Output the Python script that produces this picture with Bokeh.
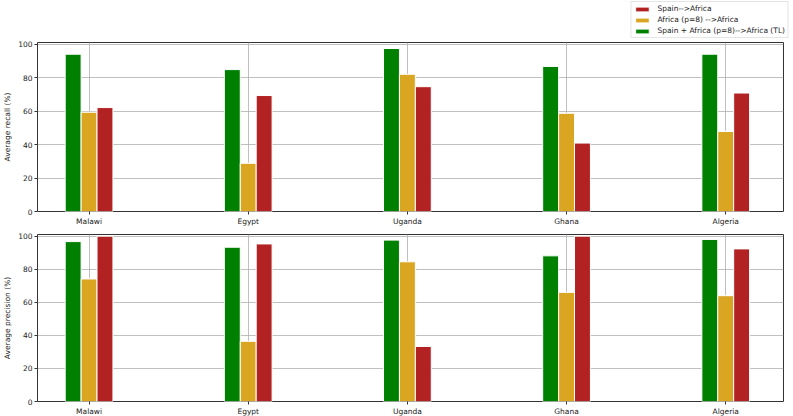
from bokeh.plotting import figure
from bokeh.models import ColumnDataSource, Range1d, FixedTicker, Legend, LegendItem
from bokeh.transform import dodge
from bokeh.layouts import column
from bokeh.embed import file_html
from bokeh.resources import INLINE

countries = ["Malawi", "Egypt", "Uganda", "Ghana", "Algeria"]
recall_tl = [94.0, 84.8, 97.4, 86.7, 94.0]
recall_africa = [59.3, 28.8, 82.0, 58.7, 47.8]
recall_spain = [62.1, 69.3, 74.6, 40.9, 70.8]
prec_tl = [96.7, 93.3, 97.6, 88.1, 98.0]
prec_africa = [74.1, 36.4, 84.5, 66.0, 64.0]
prec_spain = [100.0, 95.3, 33.3, 100.0, 92.3]
y_ticks = [0, 20, 40, 60, 80, 100]

labels = ["Spain-->Africa", "Africa (p=8) -->Africa", "Spain + Africa (p=8)-->Africa (TL)"]
GREEN, GOLD, RED = "#008000", "#daa520", "#b22222"
FONT = "DejaVu Sans"
TXT = "#222222"
W = 784


def add_bars(p, src):
    r_tl = p.vbar(x=dodge("idx", -0.1, range=p.x_range), top="tl", width=0.1, source=src,
                  fill_color=GREEN, line_color="white", line_width=1)
    r_af = p.vbar(x=dodge("idx", 0.0, range=p.x_range), top="africa", width=0.1, source=src,
                  fill_color=GOLD, line_color="white", line_width=1)
    r_sp = p.vbar(x=dodge("idx", 0.1, range=p.x_range), top="spain", width=0.1, source=src,
                  fill_color=RED, line_color="white", line_width=1)
    return r_tl, r_af, r_sp


def make_fig(src, ylabel, top_border, height):
    p = figure(width=W, height=height, output_backend="svg",
               toolbar_location=None, x_range=Range1d(-0.324, 4.363),
               y_range=Range1d(0, 101), min_border_left=0, min_border_right=1,
               min_border_top=top_border, min_border_bottom=0)
    p.background_fill_color = "white"
    p.outline_line_color = "#333333"
    p.outline_line_width = 1
    add_bars(p, src)
    p.xaxis.ticker = FixedTicker(ticks=list(range(len(countries))))
    p.xaxis.major_label_overrides = {i: c for i, c in enumerate(countries)}
    p.yaxis.ticker = FixedTicker(ticks=y_ticks)
    p.yaxis.axis_label = ylabel
    for ax in (p.xaxis[0], p.yaxis[0]):
        ax.axis_line_color = None
        ax.major_tick_line_color = "#333333"
        ax.major_tick_out = 3
        ax.major_tick_in = 0
        ax.minor_tick_line_color = None
        ax.major_label_text_font = FONT
        ax.major_label_text_font_size = "7.5px"
        ax.major_label_text_color = TXT
        ax.major_label_standoff = 2
        ax.axis_label_text_font = FONT
        ax.axis_label_text_font_size = "7.5px"
        ax.axis_label_text_font_style = "normal"
        ax.axis_label_text_color = TXT
        ax.axis_label_standoff = 3
    p.grid.grid_line_color = "#b0b0b0"
    p.grid.grid_line_width = 0.8
    return p


idx = list(range(len(countries)))
src_recall = ColumnDataSource(dict(idx=idx, tl=recall_tl, africa=recall_africa, spain=recall_spain))
src_prec = ColumnDataSource(dict(idx=idx, tl=prec_tl, africa=prec_africa, spain=prec_spain))

# legend strip above the two panels (its bars lie far outside its view)
lg = figure(width=790, height=38, output_backend="svg", toolbar_location=None,
            x_range=Range1d(500, 501), y_range=Range1d(5000, 5001), min_border=0)
lg.axis.visible = False
lg.grid.visible = False
lg.outline_line_color = None
l_tl, l_af, l_sp = add_bars(lg, src_recall)
leg = Legend(items=[LegendItem(label=labels[0], renderers=[l_sp]),
                    LegendItem(label=labels[1], renderers=[l_af]),
                    LegendItem(label=labels[2], renderers=[l_tl])],
             location="top_right", orientation="vertical",
             label_text_font=FONT, label_text_font_size="7.5px",
             label_text_color=TXT, label_height=9, glyph_height=6,
             glyph_width=17, label_standoff=7, spacing=2, padding=2,
             margin=1, border_line_color="#cccccc", border_line_width=1)
lg.add_layout(leg)

p1 = make_fig(src_recall, "Average recall (%)", 4, 190)
p2 = make_fig(src_prec, "Average precision (%)", 6, 190)

layout = column(lg, p1, p2, spacing=0)
open("out.html", "w").write(file_html(layout, INLINE))
